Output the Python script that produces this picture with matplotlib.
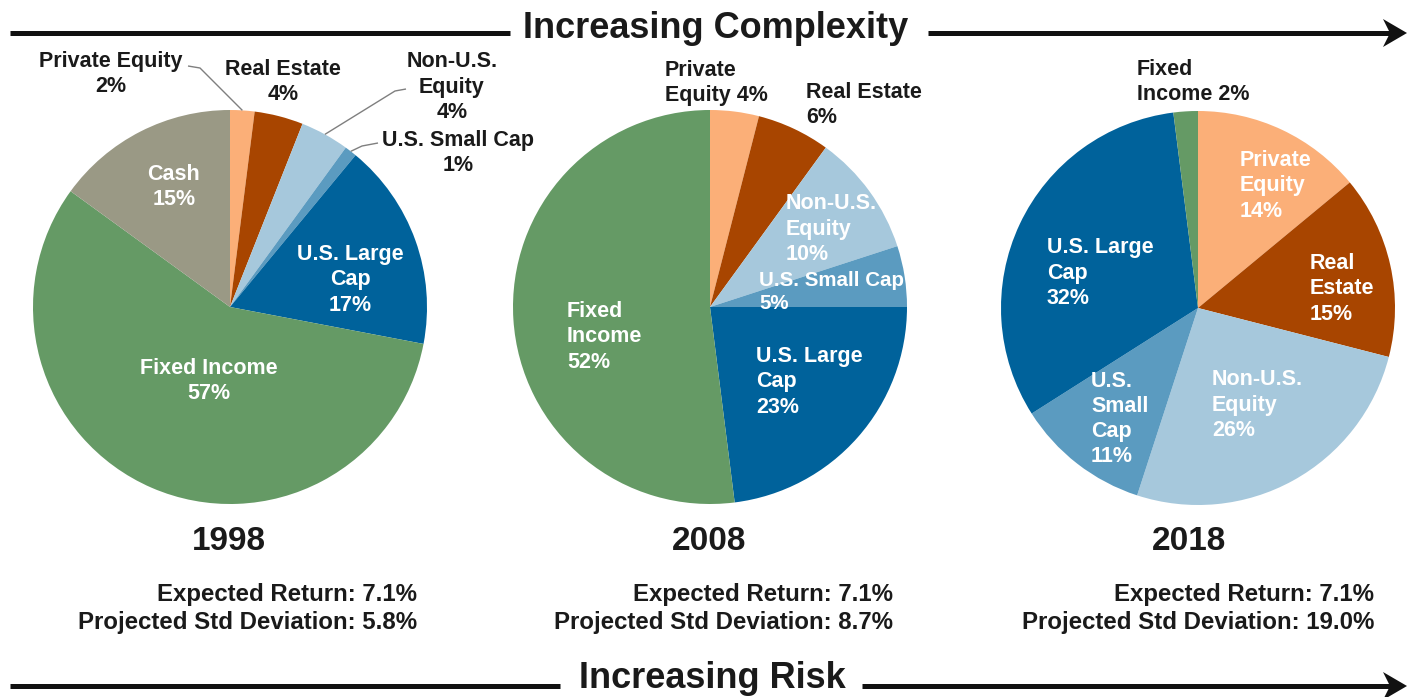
import matplotlib
matplotlib.use('Agg')
import matplotlib.pyplot as plt
import numpy as np
from matplotlib.patches import Polygon

plt.rcParams['font.family'] = ['Liberation Sans', 'DejaVu Sans']

# ---------------- data ----------------
years = ['1998', '2008', '2018']
categories = ['Private Equity', 'Real Estate', 'Non-U.S. Equity', 'U.S. Small Cap',
              'U.S. Large Cap', 'Fixed Income', 'Cash']
vals_1998 = [2, 4, 4, 1, 17, 57, 15]
vals_2008 = [4, 6, 10, 5, 23, 52, 0]
vals_2018 = [14, 15, 26, 11, 32, 2, 0]
expected_return = [7.1, 7.1, 7.1]
projected_std = [5.8, 8.7, 19.0]

# ---------------- styles ----------------
colors = {
    'Private Equity': '#FBAF78',
    'Real Estate': '#A84500',
    'Non-U.S. Equity': '#A6C8DC',
    'U.S. Small Cap': '#5B9BC0',
    'U.S. Large Cap': '#00629B',
    'Fixed Income': '#659A65',
    'Cash': '#9A9985',
}

W, H = 1408, 697
fig = plt.figure(figsize=(W / 100, H / 100), dpi=100)
ax = fig.add_axes([0, 0, 1, 1])
ax.set_xlim(0, W)
ax.set_ylim(0, H)
ax.set_aspect('equal')
ax.axis('off')


def Y(y):
    return H - y


TXT = '#1a1a1a'
LBL = 15.5
LSP = 1.27

# label layout per pie: category -> (text template, x, y, ha, color, size)
layout_1998 = {
    'Private Equity': ('Private Equity\n{v}%', 111, 74, 'center', TXT, LBL),
    'Real Estate': ('Real Estate\n{v}%', 283, 82, 'center', TXT, LBL),
    'Non-U.S. Equity': ('Non-U.S.\nEquity\n{v}%', 452, 87, 'center', TXT, LBL),
    'U.S. Small Cap': ('U.S. Small Cap\n{v}%', 458, 153, 'center', TXT, LBL),
    'U.S. Large Cap': ('U.S. Large\nCap\n{v}%', 350, 280, 'center', 'white', LBL),
    'Fixed Income': ('Fixed Income\n{v}%', 209, 381, 'center', 'white', LBL),
    'Cash': ('Cash\n{v}%', 174, 187, 'center', 'white', LBL),
}
layout_2008 = {
    'Private Equity': ('Private\nEquity {v}%', 665, 83, 'left', TXT, LBL),
    'Real Estate': ('Real Estate\n{v}%', 806, 105, 'left', TXT, LBL),
    'Non-U.S. Equity': ('Non-U.S.\nEquity\n{v}%', 786, 229, 'left', 'white', LBL),
    'U.S. Small Cap': ('U.S. Small Cap\n{v}%', 759, 292, 'left', 'white', 14.8),
    'U.S. Large Cap': ('U.S. Large\nCap\n{v}%', 756, 382, 'left', 'white', LBL),
    'Fixed Income': ('Fixed\nIncome\n{v}%', 567, 337, 'left', 'white', LBL),
}
layout_2018 = {
    'Private Equity': ('Private\nEquity\n{v}%', 1240, 186, 'left', 'white', LBL),
    'Real Estate': ('Real\nEstate\n{v}%', 1310, 289, 'left', 'white', LBL),
    'Non-U.S. Equity': ('Non-U.S.\nEquity\n{v}%', 1212, 405, 'left', 'white', LBL),
    'U.S. Small Cap': ('U.S.\nSmall\nCap\n{v}%', 1091, 419, 'left', 'white', LBL),
    'U.S. Large Cap': ('U.S. Large\nCap\n{v}%', 1047, 273, 'left', 'white', LBL),
    'Fixed Income': ('Fixed\nIncome {v}%', 1137, 82, 'left', TXT, LBL),
}

pies = [
    (vals_1998, (230, 307), layout_1998),
    (vals_2008, (710, 307), layout_2008),
    (vals_2018, (1198, 308), layout_2018),
]
R = 197

# leader lines for 1998 (text-side points)
leaders_1998 = {
    'Private Equity': [(188, 66), (200, 68)],
    'Non-U.S. Equity': [(406, 89), (395, 91)],
    'U.S. Small Cap': [(378, 143), (362, 146)],
}

wedge_store = []
for vals, (cx, cy), lay in pies:
    cats = [c for c, v in zip(categories, vals) if v > 0]
    vv = [v for v in vals if v > 0]
    wedges, _ = ax.pie(vv, colors=[colors[c] for c in cats], startangle=90,
                       counterclock=False, center=(cx, Y(cy)), radius=R,
                       wedgeprops=dict(linewidth=0), frame=True)
    wedge_store.append(dict(zip(cats, wedges)))
    for c, v in zip(cats, vv):
        tmpl, tx, ty, ha, col, fs = lay[c]
        ax.text(tx, Y(ty), tmpl.format(v=v), ha=ha, va='center', multialignment=ha,
                fontsize=fs, fontweight='bold', color=col, linespacing=LSP)

ax.set_xlim(0, W)
ax.set_ylim(0, H)
ax.axis('off')

# leader lines to slice edges
for c, pts in leaders_1998.items():
    w = wedge_store[0][c]
    mid = np.deg2rad((w.theta1 + w.theta2) / 2)
    ex = w.center[0] + R * np.cos(mid)
    ey = w.center[1] + R * np.sin(mid)
    xs = [p[0] for p in pts] + [ex]
    ys = [Y(p[1]) for p in pts] + [ey]
    ax.plot(xs, ys, color='#7f7f7f', lw=1.0, solid_capstyle='butt')

# years and stats
year_x = [229, 709, 1189]
stat_x = [417, 893, 1374]
for i, yr in enumerate(years):
    ax.text(year_x[i], Y(541), yr, ha='center', va='center', fontsize=24,
            fontweight='bold', color=TXT)
    ax.text(stat_x[i], Y(595), f'Expected Return: {expected_return[i]:.1f}%',
            ha='right', va='center', fontsize=17.3, fontweight='bold', color=TXT)
    ax.text(stat_x[i], Y(623), f'Projected Std Deviation: {projected_std[i]:.1f}%',
            ha='right', va='center', fontsize=17.3, fontweight='bold', color=TXT)


# header / footer arrows
def arrow_line(y, x_left_end, x_right_start, label, label_x, dy):
    lw = 3.6
    ax.plot([10, x_left_end], [Y(y), Y(y)], color='#111111', lw=lw, solid_capstyle='butt')
    ax.plot([x_right_start, 1390], [Y(y), Y(y)], color='#111111', lw=lw, solid_capstyle='butt')
    head = Polygon([(1407, Y(y)), (1383, Y(y) + 14), (1390, Y(y)), (1383, Y(y) - 14)],
                   closed=True, color='#111111', lw=0)
    ax.add_patch(head)
    ax.text(label_x, Y(y - dy), label, ha='center', va='center', fontsize=26,
            fontweight='bold', color=TXT)


arrow_line(33, 510, 928, 'Increasing Complexity', 716, 5)
arrow_line(686, 560, 862, 'Increasing Risk', 712, 8)

fig.savefig('out.png', dpi=100, facecolor='white')
